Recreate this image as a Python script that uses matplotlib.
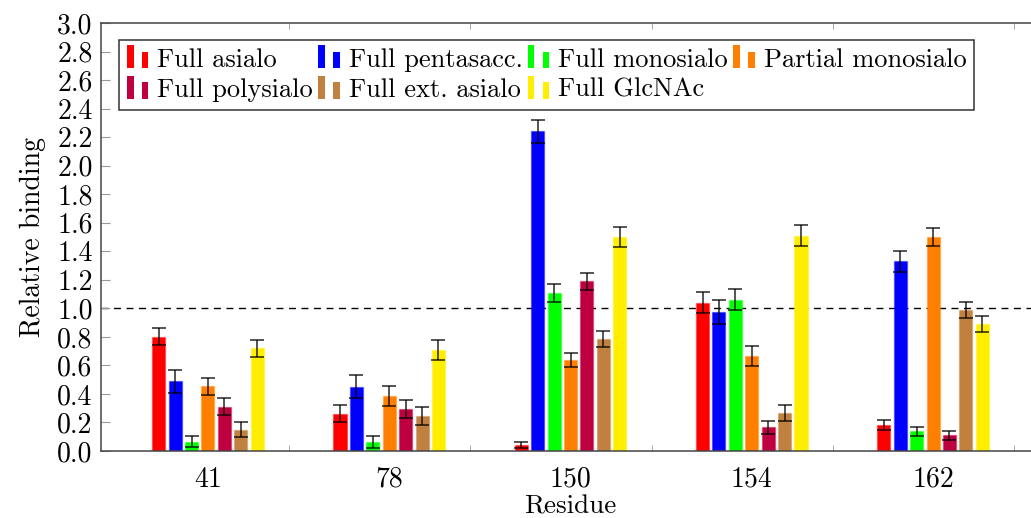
import numpy as np
import matplotlib
import matplotlib.pyplot as plt
from matplotlib.patches import Rectangle
from matplotlib.colors import to_rgba

plt.rcParams['font.family'] = 'cmr10'
plt.rcParams['axes.formatter.use_mathtext'] = True

residues = ['41', '78', '150', '154', '162']
series = ['Full asialo', 'Full pentasacc.', 'Full monosialo', 'Partial monosialo',
          'Full polysialo', 'Full ext. asialo', 'Full GlcNAc']
colors = ['#ff0000', '#0000ff', '#00ff00', '#ff8000', '#bf0040', '#bf8040', '#ffee00']

full_asialo = [0.80, 0.26, 0.04, 1.04, 0.185]
full_penta = [0.49, 0.45, 2.24, 0.975, 1.33]
full_mono = [0.065, 0.063, 1.11, 1.06, 0.138]
partial_mono = [0.455, 0.385, 0.64, 0.665, 1.50]
full_poly = [0.31, 0.295, 1.19, 0.166, 0.11]
full_ext = [0.15, 0.245, 0.785, 0.264, 0.988]
full_glcnac = [0.72, 0.71, 1.50, 1.51, 0.89]

err_asialo = [0.06, 0.06, 0.022, 0.075, 0.035]
err_penta = [0.08, 0.08, 0.08, 0.085, 0.075]
err_mono = [0.038, 0.04, 0.063, 0.075, 0.032]
err_partial = [0.06, 0.07, 0.05, 0.068, 0.065]
err_poly = [0.06, 0.065, 0.06, 0.047, 0.032]
err_ext = [0.05, 0.06, 0.055, 0.055, 0.058]
err_glcnac = [0.06, 0.07, 0.07, 0.075, 0.058]

values = [full_asialo, full_penta, full_mono, partial_mono, full_poly, full_ext, full_glcnac]
errors = [err_asialo, err_penta, err_mono, err_partial, err_poly, err_ext, err_glcnac]


class TwoBarHandler:
    # pgfplots style ybar legend: a tall and a short bar side by side
    def legend_artist(self, legend, orig_handle, fontsize, handlebox):
        x0, y0 = handlebox.xdescent, handlebox.ydescent
        w, h = handlebox.width, handlebox.height
        c = orig_handle.get_facecolor()
        bw = w * 0.28
        r1 = Rectangle((x0, y0 - h * 0.1), bw, h * 1.25, facecolor=c, edgecolor='none',
                       transform=handlebox.get_transform())
        r2 = Rectangle((x0 + w * 0.62, y0 - h * 0.1), bw, h * 0.9, facecolor=c, edgecolor='none',
                       transform=handlebox.get_transform())
        handlebox.add_artist(r1)
        handlebox.add_artist(r2)
        return r1


W, H = 1031, 518
fig = plt.figure(figsize=(W / 100, H / 100), dpi=100)
ax = fig.add_axes([101 / W, 1 - 451 / H, (1040 - 101) / W, (451 - 23) / H])

x = np.arange(len(residues))
step = 0.0905
bw = 0.072
handles = []
for k, (vals, errs, c) in enumerate(zip(values, errors, colors)):
    pos = x + (k - 3) * step
    b = ax.bar(pos, vals, width=bw, color=c, edgecolor=to_rgba(c, 0.35), linewidth=1.0,
               zorder=2, label=series[k])
    ax.errorbar(pos, vals, yerr=errs, fmt='none', ecolor='black', elinewidth=1.1,
                capsize=5, capthick=1.1, alpha=0.85, zorder=3)
    handles.append(b[0])

ax.axhline(1.0, color='black', linestyle=(0, (5, 4)), linewidth=1.0, zorder=1)

ax.set_xlim(-0.59, 4.59)
ax.set_ylim(0, 3.0)
ax.set_yticks(np.arange(0, 3.01, 0.2))
ax.set_yticklabels(['%.1f' % v for v in np.arange(0, 3.01, 0.2)])
ax.set_xticks(x)
ax.set_xticklabels(residues)
ax.set_xticks(x + 0.447, minor=True)
ax.tick_params(axis='x', which='major', length=0, pad=11, labelsize=20)
ax.tick_params(axis='x', which='minor', direction='in', length=4, color='#999999',
               top=True, bottom=True)
ax.tick_params(axis='y', which='major', direction='in', length=6.5, color='#999999',
               labelsize=20, pad=6)
for s in ax.spines.values():
    s.set_color('#444444')
    s.set_linewidth(1.1)

ax.set_ylabel('Relative binding', fontsize=20, labelpad=8)
ax.set_xlabel('Residue', fontsize=19.5)
ax.xaxis.set_label_coords(0.5, -0.102)

# legend entries go row by row, four per row
order = [0, 4, 1, 5, 2, 6, 3]
leg = ax.legend(handles=[handles[i] for i in order], labels=[series[i] for i in order],
                ncol=4, loc='upper left',
                bbox_to_anchor=(18 / 939, 1 - 17 / 428), fontsize=19,
                handler_map={matplotlib.patches.Rectangle: TwoBarHandler()},
                frameon=True, fancybox=False, edgecolor='#333333', framealpha=1,
                borderpad=0.3, columnspacing=0.2, handlelength=0.9, handletextpad=0.25,
                labelspacing=0.25, borderaxespad=0)
leg.get_frame().set_linewidth(1.1)

fig.savefig('out.png', dpi=100)
